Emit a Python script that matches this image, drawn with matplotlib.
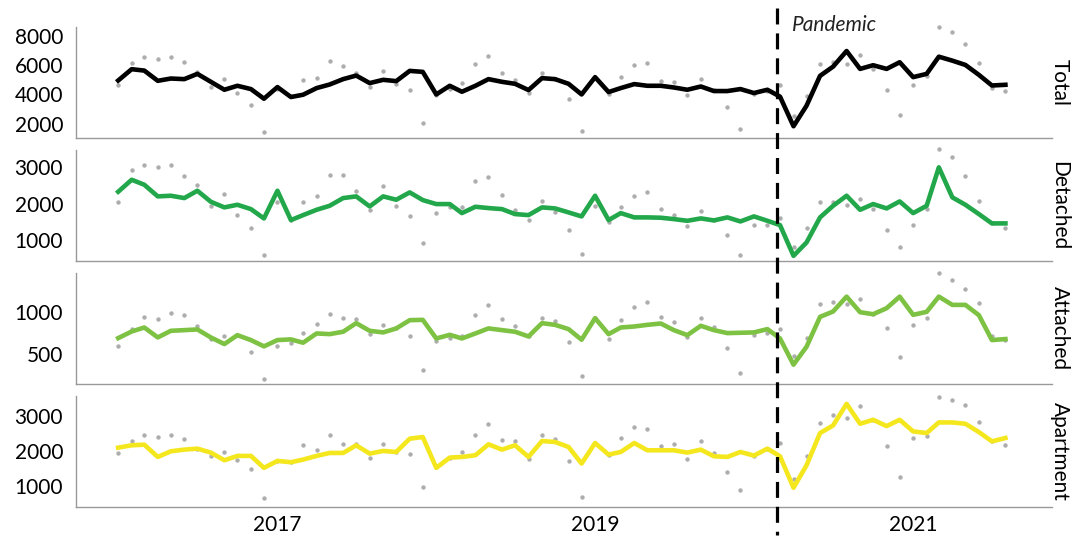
import pandas as pd
import matplotlib.pyplot as plt
import matplotlib.dates as mdates
from matplotlib.lines import Line2D

# monthly sales, Jan 2016 - Aug 2021
months = pd.date_range('2016-01-01', periods=68, freq='MS')

total_sa = [4950, 5722, 5627, 4929, 5085, 5044, 5403, 4861, 4319, 4590,
            4366, 3708, 4501, 3823, 3980, 4433, 4678, 5044, 5288, 4773,
            4997, 4908, 5607, 5539, 4000, 4590, 4183, 4590, 5044, 4861,
            4725, 4298, 5112, 5044, 4725, 4000, 5180, 4162, 4433, 4705,
            4590, 4590, 4474, 4319, 4542, 4230, 4230, 4366, 4095, 4319,
            3850, 1831, 3234, 5268, 5898, 6963, 5742, 5993, 5742, 6196,
            5180, 5403, 6576, 6305, 6013, 5335, 4610, 4657]
total_raw = [4610, 6129, 6535, 6400, 6576, 6197, 5539, 4522, 5058, 4115,
             3281, 1424, 4363, 3874, 4997, 5112, 6264, 5966, 5492, 4474,
             5627, 4705, 4298, 2034, 3955, 4395, 4746, 6061, 6644, 5491,
             5017, 4068, 5491, 5036, 3688, 1491, 5108, 4047, 5220, 6013,
             6149, 4949, 4881, 3932, 5085, 4320, 3166, 1674, 4024, 4239,
             4657, 2510, 3864, 6081, 6237, 6081, 6671, 5730, 4271, 2578,
             4657, 5268, 8610, 8251, 7458, 6129, 4465, 4203]

detached_sa = [2329, 2659, 2522, 2202, 2220, 2156, 2357, 2054, 1900, 1972,
               1853, 1597, 2357, 1551, 1688, 1834, 1944, 2156, 2202, 1927,
               2202, 2110, 2312, 2101, 1991, 1991, 1743, 1917, 1881, 1853,
               1716, 1688, 1900, 1872, 1762, 1652, 2220, 1551, 1743, 1625,
               1625, 1616, 1578, 1532, 1597, 1542, 1625, 1514, 1652, 1532,
               1413, 569, 937, 1625, 1944, 2220, 1834, 1991, 1872, 2064,
               1743, 1944, 3000, 2175, 1972, 1716, 1460, 1460]
detached_raw = [2037, 2934, 3072, 3018, 3055, 2752, 2513, 1944, 2266, 1697,
                1321, 597, 2037, 1551, 2037, 2202, 2797, 2797, 2348, 1834,
                2495, 1936, 1669, 918, 1743, 1900, 1900, 2623, 2742, 2247,
                1834, 1560, 2073, 1780, 1284, 608, 1944, 1505, 1908, 2202,
                2329, 1844, 1697, 1377, 1807, 1542, 1138, 588, 1422, 1413,
                1606, 817, 1321, 2037, 2037, 1972, 2128, 1853, 1284, 817,
                1413, 1853, 3503, 3292, 2761, 2083, 1460, 1331]

attached_sa = [691, 769, 816, 699, 777, 785, 793, 699, 621, 726,
               668, 594, 668, 676, 637, 746, 738, 766, 867, 777,
               758, 805, 902, 906, 687, 730, 687, 746, 805, 785,
               766, 711, 867, 847, 797, 672, 926, 738, 816, 828,
               847, 863, 785, 726, 836, 785, 750, 754, 758, 797,
               687, 379, 590, 941, 1004, 1179, 996, 972, 1043, 1179,
               965, 1000, 1179, 1082, 1082, 961, 668, 680]
attached_raw = [598, 793, 941, 910, 988, 961, 828, 680, 719, 726,
                524, 211, 602, 637, 754, 855, 980, 926, 914, 738,
                847, 805, 719, 321, 652, 687, 719, 965, 1078, 914,
                832, 711, 933, 894, 641, 243, 926, 680, 902, 1058,
                1121, 941, 886, 707, 933, 816, 574, 285, 726, 750,
                797, 484, 691, 1089, 1117, 1089, 1156, 972, 805, 473,
                843, 926, 1456, 1378, 1273, 1101, 719, 668]

apartment_sa = [2105, 2172, 2190, 1838, 2000, 2048, 2076, 1962, 1743, 1867,
                1867, 1524, 1724, 1686, 1762, 1867, 1952, 1952, 2172, 1933,
                2010, 1981, 2362, 2410, 1524, 1819, 1838, 1886, 2200, 2048,
                2172, 1838, 2295, 2267, 2124, 1648, 2238, 1905, 1981, 2238,
                2029, 2029, 2029, 1962, 2048, 1857, 1838, 1981, 1876, 2076,
                1857, 952, 1600, 2524, 2743, 3362, 2791, 2905, 2724, 2905,
                2571, 2524, 2829, 2829, 2791, 2552, 2286, 2381]
apartment_raw = [1962, 2295, 2476, 2410, 2457, 2352, 2076, 1857, 1981, 1762,
                 1495, 648, 1724, 1686, 2172, 2029, 2476, 2219, 2219, 1810,
                 2219, 1981, 1914, 971, 1560, 1819, 1981, 2457, 2791, 2314,
                 2295, 1790, 2457, 2362, 1714, 695, 2238, 1905, 2381, 2695,
                 2629, 2143, 2219, 1790, 2295, 1962, 1410, 886, 1876, 2076,
                 2238, 1190, 1857, 2810, 3029, 2962, 3314, 2905, 2143, 1267,
                 2381, 2438, 3552, 3476, 3333, 2838, 2286, 2190]

panels = ['Total', 'Detached', 'Attached', 'Apartment']
sa_series = [total_sa, detached_sa, attached_sa, apartment_sa]
raw_series = [total_raw, detached_raw, attached_raw, apartment_raw]
colors = ['black', '#22a84b', '#7dc243', '#f4e71d']
yticks = [[2000, 4000, 6000, 8000], [1000, 2000, 3000], [500, 1000], [1000, 2000, 3000]]
ylims = [(1000, 8600), (420, 3480), (150, 1460), (400, 3600)]

xtick_dates = ['2017-01-01', '2019-01-01', '2021-01-01']
xtick_labels = ['2017', '2019', '2021']
pandemic = pd.Timestamp('2020-02-24')

plt.rcParams['font.family'] = ['Lato', 'DejaVu Sans']

fig, axes = plt.subplots(4, 1, figsize=(10.73, 5.37), dpi=100, sharex=True)
fig.subplots_adjust(left=0.0704, right=0.980, top=0.9497, bottom=0.0559, hspace=0.103)

for ax, name, raw, sa, c, yt, yl in zip(axes, panels, raw_series, sa_series, colors, yticks, ylims):
    ax.scatter(months, raw, s=10, color='#adadad', linewidths=0, zorder=2, clip_on=False)
    ax.plot(months, sa, color=c, lw=3.3, zorder=3)
    ax.set_ylim(*yl)
    ax.set_yticks(yt)
    ax.set_yticklabels([str(v) for v in yt])
    for s in ['top', 'right']:
        ax.spines[s].set_visible(False)
    for s in ['left', 'bottom']:
        ax.spines[s].set_color('#999999')
        ax.spines[s].set_linewidth(1.0)
    ax.tick_params(axis='y', length=0, labelsize=15, pad=9)
    ax.tick_params(axis='x', length=0, labelsize=15, pad=6)
    ax.text(1.0082, 0.5, name, transform=ax.transAxes, rotation=270,
            ha='center', va='center', fontsize=15)

axes[-1].set_xlim(pd.Timestamp('2015-09-25'), pd.Timestamp('2021-11-15'))
axes[-1].set_xticks([pd.Timestamp(d) for d in xtick_dates])
axes[-1].set_xticklabels(xtick_labels)

# dashed pandemic marker across all panels
xd = axes[0].transData.transform((mdates.date2num(pandemic), 0))[0]
xf = xd / fig.bbox.width
fig.add_artist(Line2D([xf, xf], [1 - 8 / 537, 1 - 535 / 537], transform=fig.transFigure,
                      color='black', lw=2.3, linestyle=(0, (5, 2.8))))
fig.text(xf + 0.014, 1 - 25 / 537, 'Pandemic', ha='left', va='center',
         style='italic', fontweight='normal', color='#222222', fontsize=15)

plt.savefig('out.png', dpi=100)
